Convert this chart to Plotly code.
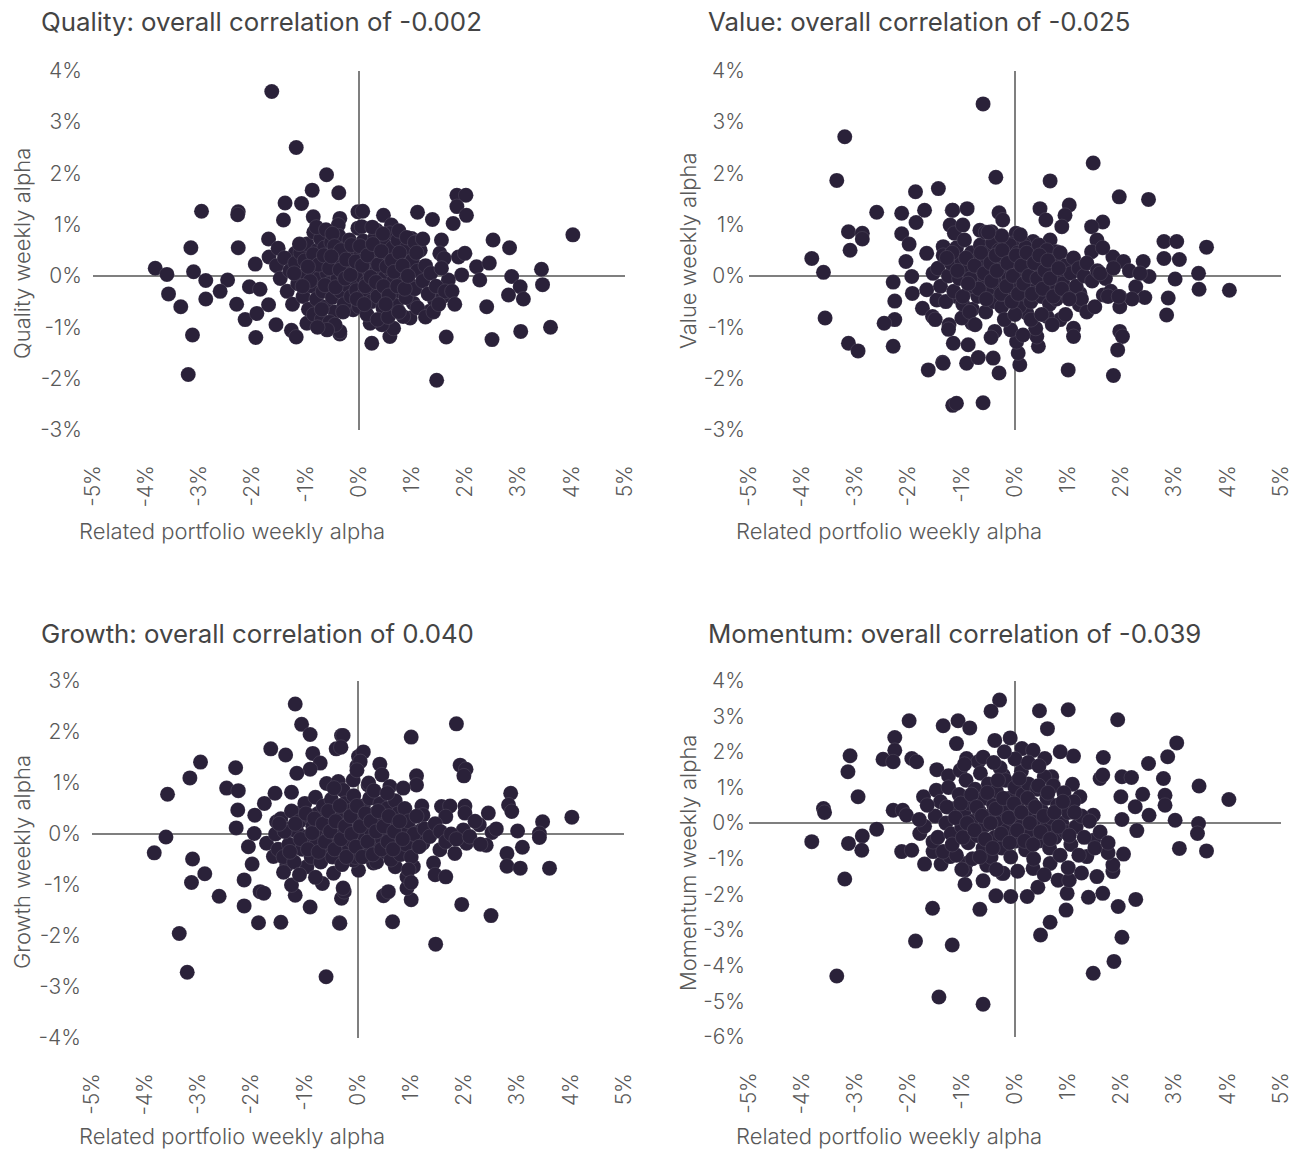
import plotly.graph_objects as go

# ---------------------------------------------------------------------------
# Weekly alpha pairs (in %): related portfolio (x) vs factor portfolio (y)
# ---------------------------------------------------------------------------
quality_x = [
    -1.64, -1.18, -0.61, -0.38, -0.88, -1.39, -1.08, -1.42, -2.96, -2.27, -2.28, -3.16,
    -2.27, -1.70, -3.83, -3.61, -3.11, -2.88, -2.47, -2.61, -3.58, -3.35, -2.88, -3.13,
    -3.21, -1.95, -2.06, -1.86, -2.30, -2.14, -1.92, -1.94, -1.56, -1.70, -1.27, -1.18,
    -0.98, -0.36, -1.69, -1.20, -1.52, -0.77, -0.86, -0.36, -0.39, -0.02, -0.02,
    0.07, 0.46, 0.05, 0.33, 0.61, 0.58, 1.10, 1.38, 0.99, 1.11, 1.84, 2.01, 1.84, 2.02,
    1.77, 1.55, 1.52, 1.60, 1.87, 1.99, 1.93, 2.21, 2.45, 2.27, 2.52, 2.83, 4.02, 3.43,
    3.45, 2.87, 3.03, 2.81, 3.09, 2.40, 3.60, 3.04, 2.50, 1.64, 1.46, 0.24, 0.58, 0.65,
    0.43, 0.21, 0.96, 0.83, 1.33, 1.42, 1.58, 1.68, 1.02, -0.11, -0.36,
    # dense centre
    -1.55, -1.48, -1.40, -1.35, -1.30, -1.25, -1.20, -1.15, -1.10, -1.05, -1.00, -0.98,
    -0.95, -0.90, -0.88, -0.85, -0.82, -0.80, -0.78, -0.75, -0.72, -0.70, -0.68, -0.65,
    -0.62, -0.60, -0.58, -0.55, -0.52, -0.50, -0.48, -0.45, -0.42, -0.40, -0.38, -0.35,
    -0.32, -0.30, -0.28, -0.25, -0.22, -0.20, -0.18, -0.15, -0.12, -0.10, -0.08, -0.05,
    -0.02, 0.00, 0.03, 0.05, 0.08, 0.10, 0.13, 0.15, 0.18, 0.20, 0.23, 0.25, 0.28, 0.30,
    0.33, 0.35, 0.38, 0.40, 0.43, 0.45, 0.48, 0.50, 0.53, 0.55, 0.58, 0.60, 0.63, 0.65,
    0.68, 0.70, 0.73, 0.75, 0.78, 0.80, 0.83, 0.85, 0.88, 0.90, 0.95, 1.00, 1.05, 1.10,
    1.15, 1.20, 1.25, 1.30, 1.35, 1.45, 1.55, 1.62,
    -0.85, -0.70, -0.55, -0.45, -0.60, -0.78, -0.80, -0.62, -0.50, 0.25, 0.45, 0.75,
    0.90, 1.05, 1.20, 0.15, 0.35, 0.55, 0.75, 1.10, 1.25, 1.40, 1.50, 1.75, 1.80,
    -1.12, -1.02, -0.92, -0.86, -0.76, -0.66, -0.64, -0.56, -0.46, -0.44, -0.36, -0.34,
    -0.26, -0.24, -0.16, -0.14, -0.06, -0.04, 0.02, 0.06, 0.12, 0.16, 0.22, 0.26, 0.32,
    0.36, 0.42, 0.46, 0.52, 0.56, 0.62, 0.66, 0.72, 0.76, 0.82, 0.86, -0.96, -1.06,
    -0.70, -0.30, 0.10, 0.50, 0.92, 1.08, -1.22, -0.52,
]
quality_y = [
    3.59, 2.50, 1.97, 1.62, 1.67, 1.42, 1.41, 1.09, 1.26, 1.25, 1.19, 0.55,
    0.55, 0.72, 0.15, 0.03, 0.08, -0.09, -0.08, -0.30, -0.35, -0.60, -0.45, -1.15,
    -1.92, 0.23, -0.21, -0.26, -0.55, -0.85, -0.73, -1.20, -0.95, -0.56, -1.06, -1.19,
    -0.92, -1.13, 0.37, 0.44, 0.54, 0.80, 1.15, 1.12, 0.99, 1.25, 0.93,
    1.26, 1.18, 0.96, 0.89, 0.99, 0.83, 1.24, 1.10, 0.73, 0.67, 1.57, 1.57, 1.35, 1.18,
    1.02, 0.70, 0.44, 0.34, 0.37, 0.44, 0.02, 0.18, 0.25, -0.08, 0.70, 0.55, 0.80, 0.13,
    -0.17, -0.01, -0.21, -0.37, -0.45, -0.60, -1.00, -1.08, -1.24, -1.19, -2.03, -1.31,
    -1.18, -1.02, -0.95, -0.92, -0.82, -0.79, -0.69, -0.47, -0.40, -0.08, -0.53, -0.66,
    -1.08,
    0.20, -0.05, 0.35, -0.30, 0.10, -0.55, 0.25, -0.15, 0.45, -0.40, 0.05, 0.62,
    -0.65, 0.30, -0.20, 0.85, 0.12, -0.45, 0.50, -0.05, 0.72, 0.25, -0.30, 0.55,
    -0.60, 0.05, 0.38, -0.15, 0.65, -0.42, 0.20, -0.70, 0.45, -0.05, 0.78, -0.30,
    0.30, 0.05, -0.55, 0.55, -0.18, 0.15, 0.70, -0.40, 0.35, -0.05, 0.52, -0.28,
    0.18, -0.60, 0.42, 0.00, 0.68, -0.35, 0.25, -0.12, 0.55, 0.08, -0.50, 0.35, -0.20,
    0.75, 0.10, -0.40, 0.48, -0.05, 0.25, -0.62, 0.60, 0.00, -0.28, 0.38, 0.12, -0.45,
    0.55, -0.10, 0.28, -0.58, 0.70, 0.05, -0.30, 0.40, -0.05, 0.15, -0.42, 0.55, -0.15,
    0.30, -0.25, 0.10, 0.50, -0.10, 0.20, -0.35, 0.05, -0.20, 0.15, -0.30,
    -0.75, -0.85, -0.90, -0.95, -1.05, -1.00, 0.95, 0.90, 0.82, 0.95, 0.82, 0.88,
    0.75, 0.65, 0.72, -0.75, -0.85, -0.80, -0.70, -0.62, -0.80, -0.70, -0.55, -0.30,
    -0.55,
    0.62, 0.30, -0.10, 0.42, 0.22, 0.40, -0.18, 0.15, 0.58, -0.22, 0.12, 0.50,
    -0.05, 0.32, 0.02, 0.60, 0.28, -0.45, 0.58, 0.20, -0.20, 0.40, -0.02, 0.62, -0.12,
    0.22, 0.48, -0.20, 0.18, -0.38, 0.30, 0.08, -0.20, 0.45, 0.20, -0.25, 0.18, -0.20,
    -0.65, -0.70, -0.55, -0.55, 0.00, 0.45, 0.05, 0.38,
]

value_x = [
    -3.20, -3.35, -3.82, -3.60, -3.57, -3.13, -2.87, -2.87, -3.10, -3.13, -2.95, -2.60,
    -2.13, -1.87, -1.44, -1.70, -1.86, -2.13, -1.99, -2.05, -2.29, -1.94, -2.26, -1.93,
    -2.26, -2.46, -2.29, -1.74, -1.55, -1.63, -1.36, -1.17, -1.10, -1.24, -1.16, -1.18,
    -1.22, -1.14, -1.66, -1.35, -1.54, -1.66, -1.47, -1.10,
    -0.60, -0.36, -1.17, -0.90, -0.30, -0.23, -0.98, -0.66, -0.44, 0.02, 0.66, 1.47,
    1.96, 2.51, 0.47, 0.58, 1.02, 0.94, 0.88, 1.65, 1.44, 1.54, 1.44, 0.66, 0.78, 0.34,
    0.16, -0.06, 1.84, 2.04, 2.41, 2.52, 2.80, 3.04, 2.80, 3.09, 3.60, 3.01, 3.45, 3.46,
    4.03, 2.27, 2.44, 2.88, 2.85, 1.97, 1.97, 1.66, 1.22, 1.21, 1.97, 2.02, 1.93, 1.85,
    1.00, 1.10, 1.10, 0.85, 0.44, 0.41, 0.39, 0.09, 0.06, 0.03, -0.08, -0.30, -0.41,
    -0.88, -0.91, -0.69, -1.35, -0.60, -0.38, -1.25, -0.81, -1.00, 0.22, 0.60,
    # dense centre
    -1.50, -1.45, -1.40, -1.35, -1.30, -1.25, -1.20, -1.15, -1.10, -1.05, -1.00, -0.98,
    -0.95, -0.90, -0.85, -0.82, -0.80, -0.75, -0.72, -0.70, -0.65, -0.62, -0.60, -0.55,
    -0.52, -0.50, -0.45, -0.42, -0.40, -0.35, -0.32, -0.30, -0.25, -0.22, -0.20, -0.15,
    -0.12, -0.10, -0.05, -0.02, 0.00, 0.05, 0.08, 0.10, 0.15, 0.18, 0.20, 0.25, 0.28,
    0.30, 0.35, 0.38, 0.40, 0.45, 0.48, 0.50, 0.55, 0.58, 0.60, 0.65, 0.68, 0.70, 0.75,
    0.78, 0.80, 0.85, 0.90, 0.95, 1.00, 1.05, 1.10, 1.15, 1.20, 1.25, 1.30, 1.35, 1.45,
    1.55, 1.70, 1.60, 1.80,
    -0.78, -0.55, -0.25, 0.10, -0.50, -0.20, 0.00, 0.30, 0.50, -0.85, -0.75, -0.45,
    0.15, 0.70, 0.95, 1.35, 1.50, 1.75, 2.20, 1.95, 2.15, 2.35, 1.85, 1.65,
    -1.18, -1.08, -0.98, -0.92, -0.84, -0.76, -0.68, -0.64, -0.58, -0.54, -0.46, -0.44,
    -0.36, -0.34, -0.26, -0.24, -0.16, -0.14, -0.06, -0.04, 0.02, 0.06, 0.12, 0.16,
    0.22, 0.26, 0.32, 0.36, 0.42, 0.46, 0.52, 0.56, 0.62, 0.66, 0.72, 0.82, 0.88,
    -1.28, -0.88, 1.02,
]
value_y = [
    2.71, 1.86, 0.34, 0.07, -0.82, 0.86, 0.83, 0.72, 0.50, -1.31, -1.46, 1.24,
    1.22, 1.64, 1.70, 1.28, 1.04, 0.82, 0.62, 0.28, -0.12, -0.01, -0.49, -0.34,
    -0.85, -0.92, -1.37, -0.63, -0.79, -1.83, -1.68, -2.52, -2.48, -0.95, -1.31, 1.28,
    0.99, 0.83, 0.44, 0.57, 0.05, -0.27, -0.47, -0.40,
    3.35, 1.92, 1.28, 1.31, 1.23, 1.09, 0.99, 0.89, 0.86, 0.83, 1.85, 2.20,
    1.54, 1.49, 1.31, 1.09, 1.38, 1.18, 0.96, 1.05, 0.96, 0.70, 0.47, 0.70, 0.47, 0.67,
    0.63, 0.63, 0.37, 0.28, 0.28, -0.01, 0.67, 0.67, 0.34, 0.32, 0.56, -0.06, 0.05, -0.26,
    -0.28, -0.21, -0.42, -0.43, -0.76, -0.40, -0.60, -0.37, -0.34, -0.56, -1.08, -1.18,
    -1.44, -1.94, -1.83, -1.02, -1.18, -0.85, -1.37, -1.18, -1.02, -1.73, -1.50, -1.28,
    -1.05, -1.89, -1.60, -1.34, -1.70, -1.59, -1.70, -2.47, -1.08, -1.04, -0.92, -0.82,
    -0.72, -0.79, -0.85,
    0.15, -0.20, 0.40, -0.50, 0.00, 0.25, -0.30, 0.55, -0.05, 0.30, -0.55, 0.70,
    0.10, -0.25, 0.45, -0.65, 0.00, 0.30, -0.40, 0.60, -0.10, 0.20, -0.70, 0.45,
    -0.30, 0.05, 0.65, -0.50, 0.25, -0.15, 0.50, -0.60, 0.10, -0.35, 0.35, -0.05,
    0.60, -0.45, 0.20, -0.20, 0.45, -0.60, 0.05, 0.30, -0.35, 0.55, -0.10, 0.20, -0.50,
    0.40, 0.00, -0.25, 0.60, 0.15, -0.40, 0.35, -0.10, 0.50, -0.55, 0.10, -0.25, 0.30,
    -0.45, 0.00, 0.45, -0.15, 0.20, -0.35, 0.05, 0.35, -0.20, 0.15, -0.45, 0.00, 0.25,
    -0.10, 0.10, -0.05, 0.05, -0.30, -0.20,
    0.85, 0.78, 0.80, 0.85, -0.85, -0.75, -0.85, -0.75, -0.70, -0.95, -1.20, -1.15,
    -0.95, -0.75, -0.70, -0.60, -0.40, -0.45, -0.40, 0.10, 0.05, 0.15, 0.55, 0.45,
    0.10, -0.40, 0.35, -0.05, 0.20, -0.25, 0.45, 0.05, -0.45, 0.25, -0.10, 0.40,
    0.10, -0.35, 0.50, -0.20, 0.25, -0.50, 0.00, 0.40, -0.35, 0.20, -0.15, 0.45,
    0.00, -0.35, 0.25, -0.05, 0.40, -0.25, 0.10, 0.30, -0.05, -0.40, 0.15, -0.25, 0.35,
    -0.15, -0.45, -0.10,
]

growth_x = [
    -1.18, -1.06, -0.90, -0.31, -0.41, -1.64, -1.36, -0.85, -0.71, -0.90, -1.15, -2.96,
    -3.16, -3.58, -2.30, -2.47, -2.25, -2.26, -2.29, -3.61, -3.83, -3.11, -2.88, -3.13,
    -2.61, -3.36, -3.21, -2.14, -2.14, -1.87, -1.45, -1.84, -1.77, -1.99, -2.06, -1.95,
    -1.94, -1.76, -1.56, -1.25, -0.60, -0.35, -0.90, -1.18, -1.25, -0.67, -0.46, -0.31,
    -0.26, -0.96, -0.49, -1.59, -1.34, -1.72, -1.53, -1.09, -1.22, -0.59, -0.37, -0.09,
    0.01, -0.02,
    1.85, 1.00, -0.28, -0.32, 0.10, 0.04, -0.02, 0.41, 0.45, 1.10, 1.10, 1.92, 2.03,
    1.99, 0.60, 0.85, 0.19, -0.28, 1.20, 1.22, 1.57, 1.73, 2.01, 2.01, 1.65, 2.45, 2.87,
    2.83, 2.89, 3.47, 3.41, 3.41, 4.02, 3.00, 3.09, 2.80, 2.80, 3.05, 3.60, 2.52, 2.28,
    2.41, 2.04, 1.98, 1.82, 1.54, 1.42, 1.45, 1.65, 1.95, 2.50, 1.46, 0.65, 0.48, 0.57,
    1.00, 0.92, 0.92, 1.04, 0.70, -0.28, -0.34, 0.01, -0.09, 0.29, 0.41, 0.98, 1.20,
    1.22, 1.04, 0.85,
    # dense centre
    -1.55, -1.50, -1.45, -1.40, -1.35, -1.30, -1.25, -1.20, -1.15, -1.10, -1.05, -1.00,
    -0.95, -0.92, -0.88, -0.85, -0.80, -0.78, -0.75, -0.70, -0.68, -0.65, -0.60, -0.58,
    -0.55, -0.50, -0.48, -0.45, -0.40, -0.38, -0.35, -0.30, -0.28, -0.25, -0.20, -0.18,
    -0.15, -0.10, -0.08, -0.05, 0.00, 0.03, 0.06, 0.10, 0.12, 0.15, 0.20, 0.22, 0.25,
    0.30, 0.32, 0.35, 0.40, 0.42, 0.45, 0.50, 0.52, 0.55, 0.60, 0.62, 0.65, 0.70, 0.72,
    0.75, 0.80, 0.82, 0.88, 0.90, 0.95, 1.00, 1.05, 1.10, 1.15, 1.25, 1.35, 1.45, 1.55,
    1.65, 1.75, 1.85, 2.10, 2.20, 2.30, 2.60,
    0.95, 1.00, -1.40, -1.10, -0.80, -0.45, 0.20, 0.30, 0.55,
    -1.38, -1.28, -1.18, -1.08, -0.98, -0.94, -0.86, -0.82, -0.74, -0.66, -0.62, -0.56,
    -0.52, -0.44, -0.42, -0.34, -0.32, -0.24, -0.22, -0.14, -0.12, -0.04, -0.02, 0.04,
    0.08, 0.14, 0.18, 0.24, 0.28, 0.34, 0.38, 0.44, 0.48, 0.56, 0.58, 0.66, 0.68, 0.78,
    -1.48, 0.84,
]
growth_y = [
    2.55, 2.15, 1.95, 1.93, 1.67, 1.67, 1.55, 1.58, 1.39, 1.27, 1.19, 1.41,
    1.10, 0.78, 1.30, 0.90, 0.85, 0.47, 0.12, -0.06, -0.37, -0.49, -0.78, -0.95,
    -1.22, -1.95, -2.71, -0.90, -1.41, -1.74, -1.73, -1.13, -1.16, -0.59, -0.25, 0.01,
    0.37, 0.60, 0.80, 0.82, -2.80, -1.74, -1.43, -1.20, -1.00, -0.97, -0.77, -1.26,
    -1.13, -0.64, -0.44, -0.44, -0.61, -0.18, 0.24, 0.41, 0.08, 0.99, 1.03, 1.06,
    1.52, 1.33,
    2.16, 1.90, 1.93, 1.70, 1.61, 1.42, 1.25, 1.37, 1.16, 1.14, 0.96, 1.35, 1.27,
    1.14, 0.93, 0.90, 0.96, 0.86, 0.55, 0.37, 0.54, 0.55, 0.55, 0.41, 0.34, 0.41, 0.80,
    0.57, 0.44, 0.24, 0.01, -0.07, 0.33, 0.06, -0.26, -0.38, -0.63, -0.67, -0.67, 0.03,
    0.18, -0.22, -0.18, 0.08, -0.38, -0.31, -0.57, -0.80, -0.84, -1.38, -1.60, -2.16,
    -1.72, -1.21, -1.13, -1.29, -1.06, -0.84, -0.64, -0.64, -1.06, -1.75, -0.71, -0.51,
    -0.57, -0.31, 0.08, 0.08, -0.18, -0.20, -0.38,
    0.00, -0.30, 0.30, -0.45, 0.10, -0.20, 0.45, -0.55, 0.05, 0.25, -0.30, 0.60,
    -0.05, 0.35, -0.45, 0.15, 0.72, -0.20, 0.40, -0.55, 0.05, 0.55, -0.30, 0.25,
    -0.05, 0.68, -0.45, 0.12, 0.45, -0.20, 0.30, -0.60, 0.00, 0.60, -0.35, 0.20,
    0.45, -0.15, 0.75, -0.45, 0.10, 0.35, -0.25, 0.55, -0.05, 0.25, -0.40, 0.70, 0.05,
    -0.20, 0.40, -0.55, 0.15, 0.60, -0.10, 0.30, -0.35, 0.50, 0.00, -0.50, 0.20, 0.65,
    -0.15, 0.40, -0.40, 0.10, 0.50, -0.20, 0.25, -0.45, 0.00, 0.35, -0.25, 0.10, -0.05,
    0.20, 0.05, -0.15, 0.00, -0.10, -0.05, 0.25, -0.20, 0.10,
    -0.70, -0.95, -0.75, -0.80, -0.85, 0.90, 1.00, 0.85, 0.80,
    0.05, -0.35, 0.20, -0.10, 0.40, -0.30, 0.02, 0.30, -0.35, 0.20, -0.15, 0.45,
    0.05, -0.30, 0.25, 0.55, -0.10, 0.15, -0.45, 0.35, 0.00, -0.25, 0.55, 0.15,
    -0.45, 0.40, -0.15, 0.25, -0.40, 0.05, 0.45, -0.30, 0.15, -0.15, 0.35, -0.30, 0.05,
    0.25, 0.20, -0.10,
]

momentum_x = [
    -0.29, -0.45, -1.99, -1.07, -1.35, -0.85, -2.26, -0.38, -0.09, -1.10, -3.10, -2.26,
    -2.48, -2.29, -1.94, -1.85, -3.14, -1.47, -1.25, -1.03, -0.91, -0.69, -2.95, -3.60,
    -3.58, -2.29, -2.11, -2.04, -2.60, -3.82, -3.13, -2.87, -2.88, -3.20, -2.13, -1.94,
    -1.70, -1.39, -1.54, -1.22, -0.92, -0.94, -0.94, -0.60, -0.53, -0.24, -0.36, -0.08,
    -1.55, -0.66, -1.87, -1.18, -3.35, -1.43, -0.60, -1.72, -1.48, -1.79, -1.70, -1.54,
    0.46, 1.00, 1.93, 0.61, 3.04, 2.87, 2.51, 1.66, 1.10, 0.85, 0.56, 0.13, 0.34, 1.60,
    1.65, 2.01, 2.19, 2.79, 3.46, 4.02, 1.99, 2.40, 2.26, 2.82, 2.82, 2.52, 2.01, 2.29,
    3.01, 3.45, 3.43, 3.09, 3.60, 2.04, 1.84, 1.84, 1.54, 1.65, 1.38, 1.94, 2.27, 2.01,
    1.86, 1.47, 0.96, 0.66, 0.48, 0.43, 0.23, 0.98, 0.81, 1.02, -0.22, 0.34, 0.66, 1.35,
    1.75, 1.48, 1.47, 1.22, 1.08, 0.69, -0.22,
    # dense centre
    -1.50, -1.45, -1.40, -1.35, -1.30, -1.25, -1.20, -1.15, -1.10, -1.05, -1.00, -0.95,
    -0.92, -0.88, -0.85, -0.80, -0.78, -0.75, -0.70, -0.68, -0.65, -0.60, -0.58, -0.55,
    -0.50, -0.48, -0.45, -0.40, -0.38, -0.35, -0.30, -0.28, -0.25, -0.20, -0.18, -0.15,
    -0.10, -0.08, -0.05, 0.00, 0.02, 0.05, 0.10, 0.12, 0.15, 0.20, 0.22, 0.25, 0.30,
    0.32, 0.35, 0.40, 0.42, 0.45, 0.50, 0.55, 0.58, 0.60, 0.65, 0.68, 0.72, 0.75, 0.80,
    0.85, 0.88, 0.92, 0.95, 1.00, 1.05, 1.10, 1.15, 1.20, 1.25, 1.30, 1.40, 1.50, 1.60,
    1.75, -1.65, -1.80,
    -0.95, -0.60, -0.40, 0.00, 0.25, 0.45, -0.20, -1.00, -0.35, 0.05, 0.55, 1.00, 1.25,
    -1.28, -1.18, -1.12, -1.02, -0.98, -0.90, -0.82, -0.76, -0.72, -0.62, -0.56, -0.52,
    -0.46, -0.42, -0.36, -0.32, -0.26, -0.22, -0.12, -0.10, -0.02, 0.04, 0.08, 0.12,
    0.18, 0.24, 0.28, 0.34, 0.38, 0.44, 0.48, 0.54, 0.62, 0.66, 0.74, 0.82, 0.90, 1.02,
    1.12, -0.66,
]
momentum_y = [
    3.45, 3.14, 2.87, 2.87, 2.73, 2.67, 2.40, 2.32, 2.39, 2.23, 1.89, 2.04,
    1.79, 1.72, 1.81, 1.72, 1.44, 1.50, 1.33, 1.48, 1.81, 1.72, 0.74, 0.41,
    0.30, 0.36, 0.36, 0.22, -0.17, -0.52, -0.57, -0.36, -0.76, -1.57, -0.80, -0.76,
    -1.15, -1.15, -0.80, -0.94, -1.13, -1.32, -1.72, -1.62, -1.18, -1.41, -2.04, -2.06,
    -2.39, -2.42, -3.31, -3.42, -4.29, -4.88, -5.08, 0.74, 0.92, -0.29, -0.09, -0.52,
    3.15, 3.18, 2.90, 2.65, 2.25, 1.86, 1.67, 1.84, 1.88, 2.00, 1.81, 2.09, 2.04, 1.25,
    1.35, 1.30, 1.28, 1.25, 1.04, 0.66, 0.74, 0.81, 0.46, 0.78, 0.50, 0.22, 0.10, -0.21,
    0.08, -0.01, -0.29, -0.71, -0.78, -0.87, -1.36, -1.17, -1.50, -1.97, -2.08, -2.34,
    -2.14, -3.20, -3.88, -4.21, -2.44, -2.78, -3.14, -1.80, -2.06, -1.97, -1.60, -1.60,
    -1.41, -1.27, -1.13, -0.94, -0.83, -0.48, 0.22, 0.74, 1.09, 1.30, 1.34,
    0.20, -0.40, 0.60, -0.80, 0.00, 1.00, -0.30, 0.40, -0.90, 0.80, -0.10, 0.25,
    1.20, -0.55, 0.55, -1.00, 0.05, 0.95, -0.35, 0.35, 1.40, -0.70, 0.70, -0.05,
    1.10, 0.20, -0.95, 0.50, -0.40, 0.90, 0.00, 1.55, -0.70, 0.35, 1.20, -0.20,
    0.70, -0.95, 0.10, 1.00, -0.50, 0.45, -0.10, 1.45, 0.80, -0.75, 0.25, 1.10, -0.30,
    0.55, -1.00, 0.05, 0.95, -0.50, 0.35, 1.30, -0.15, 0.70, -0.70, 0.15, 1.05, -0.40,
    0.50, -0.90, 0.00, 0.85, -0.25, 0.30, -0.60, 0.60, -0.10, -0.90, 0.20, -0.40, 0.05,
    -0.70, -0.25, -0.55, 0.50, 0.10,
    1.65, 1.85, 1.70, 1.80, 1.70, 1.60, 2.00, -1.30, -1.30, -1.35, -1.45, -1.25, -1.40,
    0.45, -0.60, 0.15, 0.55, -0.40, 0.00, 0.80, -0.20, 0.45, 0.20, -0.45, 0.85,
    0.00, -0.70, 0.40, 1.20, -0.30, 0.70, 0.15, -0.55, 0.55, -0.20, 1.25, 0.30,
    -0.50, 0.70, 0.00, -0.60, 0.45, 1.05, -0.25, 0.20, 0.85, -0.45, 0.30, -0.10, 0.60,
    -0.35, 0.30, -0.95,
]

# Panel definitions
panel_titles = [
    "Quality: overall correlation of -0.002",
    "Value: overall correlation of -0.025",
    "Growth: overall correlation of 0.040",
    "Momentum: overall correlation of -0.039",
]
y_titles = [
    "Quality weekly alpha",
    "Value weekly alpha",
    "Growth weekly alpha",
    "Momentum weekly alpha",
]
x_title = "Related portfolio weekly alpha"

x_tick_vals = [-5, -4, -3, -2, -1, 0, 1, 2, 3, 4, 5]
x_tick_text = ["-5%", "-4%", "-3%", "-2%", "-1%", "0%", "1%", "2%", "3%", "4%", "5%"]

y_ranges = [(-3, 4), (-3, 4), (-4, 3), (-6, 4)]

series = [
    (quality_x, quality_y),
    (value_x, value_y),
    (growth_x, growth_y),
    (momentum_x, momentum_y),
]

W, H = 1303, 1152
DOT = "#2a2139"
ZERO = "#7f7f7f"
TICK_COLOR = "#595959"
TEXT_COLOR = "#444444"
FONT = "Inter"

# plot areas in pixels: (left, right, top, bottom)
boxes = [
    (93, 625, 70.5, 430),
    (749, 1281, 70.5, 430),
    (92, 624, 681, 1038),
    (749, 1281, 680.5, 1037),
]
y_label_standoff = [10, 3, 10, 3]

fig = go.Figure()
layout = dict(
    template="none",
    width=W,
    height=H,
    autosize=False,
    margin=dict(l=0, r=0, t=0, b=0, pad=0, autoexpand=False),
    paper_bgcolor="white",
    plot_bgcolor="white",
    showlegend=False,
    font=dict(family=FONT, color=TICK_COLOR),
)

annotations = []
for i, ((xs, ys), box) in enumerate(zip(series, boxes)):
    n = "" if i == 0 else str(i + 1)
    left, right, top, bottom = box
    fig.add_trace(
        go.Scatter(
            x=xs,
            y=ys,
            mode="markers",
            marker=dict(size=15, color=DOT, line=dict(width=0.4, color="rgba(255,255,255,0.25)")),
            xaxis="x" + n,
            yaxis="y" + n,
            hoverinfo="x+y",
        )
    )
    ylo, yhi = y_ranges[i]
    layout["xaxis" + n] = dict(
        domain=[left / W, right / W],
        anchor="y" + n,
        range=[-5, 5],
        automargin=False,
        tickvals=x_tick_vals,
        ticktext=x_tick_text,
        tickangle=-90,
        tickfont=dict(size=21, color=TICK_COLOR, family=FONT, weight=300),
        ticks="",
        ticklabelstandoff=30,
        showgrid=False,
        showline=False,
        zeroline=True,
        zerolinecolor=ZERO,
        zerolinewidth=1.5,
        fixedrange=True,
    )
    y_vals = list(range(ylo, yhi + 1))
    layout["yaxis" + n] = dict(
        domain=[1 - bottom / H, 1 - top / H],
        anchor="x" + n,
        range=[ylo, yhi],
        automargin=False,
        tickvals=y_vals,
        ticktext=[f"{v}%" for v in y_vals],
        tickfont=dict(size=21, color=TICK_COLOR, family=FONT, weight=300),
        ticks="",
        ticklabelstandoff=y_label_standoff[i],
        showgrid=False,
        showline=False,
        zeroline=True,
        zerolinecolor=ZERO,
        zerolinewidth=1.5,
        fixedrange=True,
    )

# panel titles and axis titles
title_pos = [(39, 22), (706, 22), (39, 633), (706, 633)]
ytitle_pos = [(22, 254), (688, 250), (22, 862), (688, 863)]
xtitle_pos = [(77, 531), (734, 531), (77, 1136), (734, 1136)]
for i in range(4):
    tx, ty = title_pos[i]
    annotations.append(dict(
        x=tx / W, y=1 - ty / H, xref="paper", yref="paper",
        xanchor="left", yanchor="middle", showarrow=False,
        text=panel_titles[i],
        font=dict(size=25.8, color=TEXT_COLOR, family=FONT, weight=400),
    ))
    yx, yy = ytitle_pos[i]
    annotations.append(dict(
        x=yx / W, y=1 - yy / H, xref="paper", yref="paper",
        xanchor="center", yanchor="middle", showarrow=False,
        text=y_titles[i], textangle=-90,
        font=dict(size=22, color=TICK_COLOR, family=FONT, weight=300),
    ))
    xx, xy = xtitle_pos[i]
    annotations.append(dict(
        x=xx / W, y=1 - xy / H, xref="paper", yref="paper",
        xanchor="left", yanchor="middle", showarrow=False,
        text=x_title,
        font=dict(size=22, color=TICK_COLOR, family=FONT, weight=300),
    ))

layout["annotations"] = annotations
fig.update_layout(**layout)
fig.write_html(
    "out.html",
    post_script="document.body.style.margin='0';document.body.style.overflow='hidden';",
)
